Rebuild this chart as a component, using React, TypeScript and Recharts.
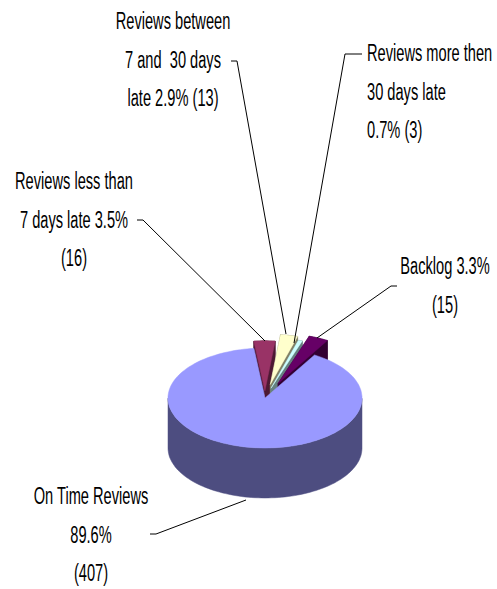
import { PieChart, Pie } from "recharts";

const names = [
  "Reviews less than 7 days late",
  "Reviews between 7 and 30 days late",
  "Reviews more then 30 days late",
  "Backlog",
  "On Time Reviews",
];
const counts = [16, 13, 3, 15, 407];
const labelLines = [
  ["Reviews less than", "7 days late 3.5%", "(16)"],
  ["Reviews between", "7 and  30 days", "late 2.9% (13)"],
  ["Reviews more then", "30 days late", "0.7% (3)"],
  ["Backlog 3.3%", "(15)"],
  ["On Time Reviews", "89.6%", "(407)"],
];

const topColors = ["#993366", "#ffffcc", "#ccffff", "#660066", "#9999ff"];
const sideColors = ["#4d1933", "#808066", "#668080", "#330033", "#4d4d80"];
const explode = [14, 27, 20, 31, 0];

const CX = 265;
const CY = 398;
const RX = 97;
const SQUASH = 0.515;
const DEPTH = 50;
const NARROW = 0.61; // no narrow font installed, so squeeze the text

// where each label sits and how its leader runs, in page pixels
const labelLayout = [
  { x: 74, y: 181, anchor: "middle", leader: [[137, 220], [143, 220], [265, 341]] },
  { x: 173, y: 21, anchor: "middle", leader: [[231, 61], [237, 61], [286, 334]] },
  { x: 367, y: 53, anchor: "start", leader: [[362, 54], [345, 54], [294, 343]] },
  { x: 445, y: 266, anchor: "middle", leader: [[397, 286], [391, 286], [317, 338]] },
  { x: 91, y: 496, anchor: "middle", leader: [[150, 534], [156, 534], [246, 500]] },
];

const data = names.map((name, i) => ({ name, value: counts[i] }));

function pt(cx: number, cy: number, r: number, deg: number) {
  const a = (deg * Math.PI) / 180;
  return [cx + r * Math.cos(a), cy - r * Math.sin(a) * SQUASH];
}

function toPath(points: number[][]) {
  return "M" + points.map((p) => `${p[0].toFixed(1)},${p[1].toFixed(1)}`).join("L") + "Z";
}

function Slice3D(props: any) {
  const { cx, cy, outerRadius, startAngle, endAngle, midAngle, name } = props;
  const i = names.indexOf(name);
  const off = explode[i];
  const [ox, oy] = pt(cx, cy, off, midAngle);

  const arc: number[][] = [];
  const steps = Math.max(4, Math.ceil(Math.abs(startAngle - endAngle) / 2));
  for (let s = 0; s <= steps; s++) {
    const deg = startAngle + ((endAngle - startAngle) * s) / steps;
    arc.push(pt(ox, oy, outerRadius, deg));
  }
  const down = (p: number[]) => [p[0], p[1] + DEPTH];

  // outer wall, only the part facing the viewer is drawn for the big slice
  const walls: string[] = [];
  if (off > 0) {
    const apex = [ox, oy];
    walls.push(toPath([apex, arc[0], down(arc[0]), down(apex)]));
    walls.push(toPath([apex, arc[arc.length - 1], down(arc[arc.length - 1]), down(apex)]));
    walls.push(toPath([...arc, ...arc.map(down).reverse()]));
  } else {
    const front = arc.filter((p) => p[1] >= oy);
    walls.push(toPath([...front, ...front.map(down).reverse()]));
  }

  return (
    <g>
      {walls.map((d, k) => (
        <path key={k} d={d} fill={sideColors[i]} stroke={sideColors[i]} strokeWidth={0.5} />
      ))}
      <path d={toPath([[ox, oy], ...arc])} fill={topColors[i]} stroke={topColors[i]} strokeWidth={0.5} />
    </g>
  );
}

function renderLabel(props: any) {
  const i = props.index;
  const lay = labelLayout[i];
  return (
    <g key={i}>
      <polyline points={lay.leader.map((p) => p.join(",")).join(" ")} fill="none" stroke="#000" strokeWidth={1} />
      {labelLines[i].map((line, k) => (
        <text
          key={k}
          transform={`translate(${lay.x},${lay.y + 8 + k * 38.5}) scale(${NARROW},1)`}
          textAnchor={lay.anchor as any}
          fontFamily="'Liberation Sans', Arial, sans-serif"
          fontSize={24}
          fill="#000"
          xmlSpace="preserve"
        >
          {line}
        </text>
      ))}
    </g>
  );
}

export default function App() {
  return (
    <div style={{ position: "absolute", left: 0, top: 0, background: "#fff" }}>
      <PieChart width={497} height={589} margin={{ top: 0, right: 0, bottom: 0, left: 0 }}>
        <Pie
          data={data}
          dataKey="value"
          nameKey="name"
          cx={CX}
          cy={CY}
          innerRadius={0}
          outerRadius={RX}
          startAngle={96.6}
          endAngle={-263.4}
          paddingAngle={0}
          stroke="none"
          shape={Slice3D}
          label={renderLabel}
          labelLine={false}
          isAnimationActive={false}
        />
      </PieChart>
    </div>
  );
}
